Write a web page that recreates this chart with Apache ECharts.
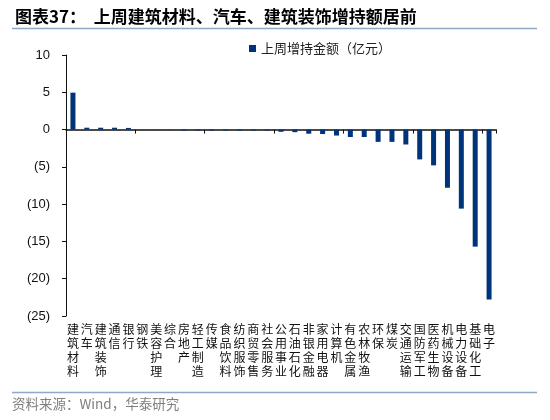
<!DOCTYPE html>
<html>
<head>
<meta charset="utf-8">
<script src="https://cdn.jsdelivr.net/npm/echarts@6/dist/echarts.min.js"></script>
<style>
    html, body { margin: 0; padding: 0; background: #fff; }
    #chart { width: 550px; height: 420px; }
</style>
</head>
<body>
<div id="chart"></div>
<script>
// Отрасли (категории оси X)
const industries = [
    '建筑材料', '汽车', '建筑装饰', '通信', '银行', '钢铁', '美容护理', '综合',
    '房地产', '轻工制造', '传媒', '食品饮料', '纺织服饰', '商贸零售', '社会服务',
    '公用事业', '石油石化', '非银金融', '家用电器', '计算机', '有色金属', '农林牧渔',
    '环保', '煤炭', '交通运输', '国防军工', '医药生物', '机械设备', '电力设备',
    '基础化工', '电子'
];

//增持金额, 亿元
const holdingChange = [
    4.95, 0.25, 0.25, 0.25, 0.22, 0.02, 0.02, 0.02,
    -0.12, -0.12, -0.12, -0.12, -0.12, -0.12, -0.12,
    -0.3, -0.35, -0.55, -0.6, -0.8, -1.0, -1.0,
    -1.65, -1.65, -2.0, -4.0, -4.8, -7.8, -10.6,
    -15.7, -22.8
];

const seriesName = '上周增持金额（亿元）';
const titleText = '图表37：  上周建筑材料、汽车、建筑装饰增持额居前';
const sourceText = '资料来源：Wind，华泰研究';

const barColor = '#00347a';
const cjkFont = '"Noto Sans CJK SC", sans-serif';
const numFont = '"Liberation Sans", Arial, sans-serif';

const chart = echarts.init(document.getElementById('chart'), null, { renderer: 'canvas' });

const option = {
    backgroundColor: '#fff',
    animation: false,
    title: {
        text: titleText,
        left: 10,
        top: 3,
        textStyle: {
            fontFamily: cjkFont,
            fontSize: 17,
            fontWeight: 'bold',
            color: '#000'
        }
    },
    graphic: [
        {
            type: 'line',
            shape: { x1: 12, y1: 28.5, x2: 537, y2: 28.5 },
            style: { stroke: '#8fa8c6', lineWidth: 1.5 }
        },
        {
            type: 'line',
            shape: { x1: 12, y1: 392.5, x2: 537, y2: 392.5 },
            style: { stroke: '#8fa8c6', lineWidth: 1.5 }
        },
        {
            type: 'text',
            left: 12,
            top: 397,
            style: {
                text: sourceText,
                fill: '#7f7f7f',
                font: '13.5px ' + cjkFont
            }
        }
    ],
    legend: {
        left: 244,
        top: 37,
        icon: 'rect',
        itemWidth: 7,
        itemHeight: 7,
        itemGap: 4,
        textStyle: {
            fontFamily: cjkFont,
            fontSize: 13,
            color: '#222'
        },
        data: [seriesName]
    },
    grid: {
        left: 66,
        right: 54,
        top: 55,
        bottom: 104,
        containLabel: false
    },
    xAxis: [
        {
            // ось на нуле: только линия и засечки
            type: 'category',
            data: industries,
            position: 'bottom',
            axisLine: {
                onZero: true,
                lineStyle: { color: '#111', width: 1.5 }
            },
            axisTick: {
                show: true,
                length: 4,
                lineStyle: { color: '#111' }
            },
            axisLabel: { show: false },
            splitLine: { show: false }
        },
        {
            // подписи внизу графика, вертикально
            type: 'category',
            data: industries,
            position: 'bottom',
            axisLine: { show: false, onZero: false },
            axisTick: { show: false },
            splitLine: { show: false },
            axisLabel: {
                interval: 0,
                margin: 6,
                color: '#111',
                fontFamily: cjkFont,
                fontSize: 12,
                lineHeight: 14,
                verticalAlign: 'top',
                formatter: function (value) {
                    return value.split('').join('\n');
                }
            }
        }
    ],
    yAxis: {
        type: 'value',
        min: -25,
        max: 10,
        interval: 5,
        axisLine: {
            show: true,
            lineStyle: { color: '#111', width: 1 }
        },
        axisTick: {
            show: true,
            length: 4,
            lineStyle: { color: '#111' }
        },
        splitLine: { show: false },
        axisLabel: {
            margin: 16,
            color: '#111',
            fontFamily: numFont,
            fontSize: 13,
            formatter: function (value) {
                return value < 0 ? '(' + Math.abs(value) + ')' : String(value);
            }
        }
    },
    series: [
        {
            name: seriesName,
            type: 'bar',
            xAxisIndex: 0,
            data: holdingChange,
            barWidth: 5,
            itemStyle: { color: barColor }
        }
    ]
};

chart.setOption(option);
</script>
</body>
</html>
